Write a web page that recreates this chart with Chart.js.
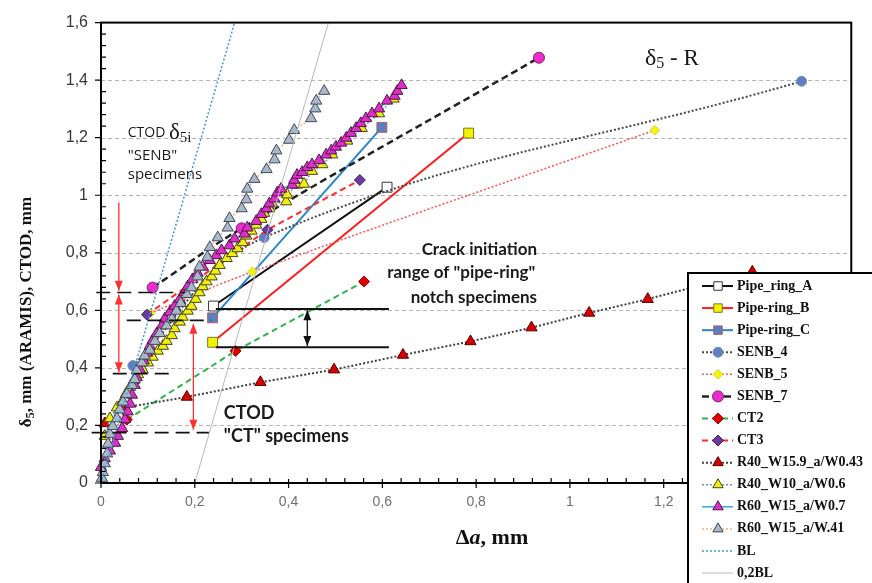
<!DOCTYPE html>
<html>
<head>
<meta charset="utf-8">
<script src="https://cdn.jsdelivr.net/npm/chart.js@4.4.0/dist/chart.umd.min.js"></script>
<style>
html, body { margin: 0; padding: 0; background: #fff; }
#wrap { width: 872px; height: 583px; }
</style>
</head>
<body>
<div id="wrap"><canvas id="chart" width="872" height="583"></canvas></div>
<script>
// axis range / ticks
const axisMin = 0;
const axisMax = 1.6;
const majorStep = 0.2;
const minorStep = 0.04;

// series values, [delta a (mm), delta5 / CTOD (mm)]
const pipeRingA = [[0.240, 0.615], [0.610, 1.028]];
const pipeRingB = [[0.238, 0.489], [0.784, 1.216]];
const pipeRingC = [[0.238, 0.574], [0.599, 1.236]];
const senb4 = [[0.068, 0.408], [0.348, 0.853], [1.494, 1.396]];
const senb5 = [[0.105, 0.590], [0.323, 0.734], [1.181, 1.226]];
const senb7 = [[0.110, 0.679], [0.300, 0.885], [0.934, 1.478]];
const ct2 = [[0.055, 0.220], [0.287, 0.459], [0.561, 0.700]];
const ct3 = [[0.098, 0.585], [0.355, 0.880], [0.552, 1.053]];
const r40w159 = [[0.008, 0.207], [0.050, 0.262], [0.183, 0.299], [0.340, 0.350], [0.497, 0.394],
    [0.644, 0.445], [0.788, 0.492], [0.918, 0.540], [1.041, 0.591], [1.166, 0.639], [1.389, 0.734]];
const r40w10 = [[0.008, 0.163], [0.019, 0.224], [0.034, 0.262], [0.045, 0.282], [0.053, 0.309],
    [0.062, 0.333], [0.070, 0.357], [0.079, 0.377], [0.089, 0.394], [0.100, 0.418], [0.110, 0.438],
    [0.121, 0.459], [0.132, 0.476], [0.140, 0.493], [0.151, 0.513], [0.157, 0.537], [0.168, 0.560],
    [0.174, 0.577], [0.185, 0.598], [0.193, 0.615], [0.202, 0.639], [0.210, 0.662], [0.217, 0.683],
    [0.225, 0.700], [0.236, 0.717], [0.244, 0.737], [0.253, 0.757], [0.268, 0.781], [0.280, 0.798],
    [0.291, 0.815], [0.302, 0.836], [0.310, 0.859], [0.321, 0.876], [0.331, 0.897], [0.342, 0.917],
    [0.348, 0.938], [0.359, 0.954], [0.365, 0.971], [0.395, 0.978], [0.397, 1.002], [0.418, 1.036],
    [0.433, 1.039], [0.450, 1.084], [0.472, 1.107], [0.493, 1.141], [0.525, 1.189], [0.556, 1.233],
    [0.593, 1.284], [0.624, 1.335]];
const r60w07 = [[0.000, 0.055], [0.008, 0.085], [0.019, 0.112], [0.030, 0.139], [0.036, 0.163],
    [0.045, 0.190], [0.051, 0.221], [0.057, 0.248], [0.062, 0.275], [0.066, 0.306], [0.072, 0.340],
    [0.076, 0.367], [0.083, 0.394], [0.091, 0.425], [0.098, 0.452], [0.104, 0.476], [0.110, 0.496],
    [0.119, 0.520], [0.130, 0.547], [0.136, 0.571], [0.147, 0.594], [0.157, 0.615], [0.168, 0.639],
    [0.178, 0.662], [0.185, 0.683], [0.195, 0.707], [0.206, 0.730], [0.217, 0.751], [0.232, 0.774],
    [0.246, 0.791], [0.257, 0.808], [0.274, 0.825], [0.285, 0.849], [0.306, 0.866], [0.312, 0.887],
    [0.331, 0.910], [0.342, 0.934], [0.353, 0.954], [0.359, 0.971], [0.370, 0.988], [0.376, 1.009],
    [0.384, 1.022], [0.408, 1.036], [0.412, 1.053], [0.418, 1.070], [0.429, 1.080], [0.440, 1.097],
    [0.450, 1.107], [0.465, 1.121], [0.480, 1.141], [0.491, 1.155], [0.501, 1.168], [0.512, 1.182],
    [0.523, 1.199], [0.533, 1.216], [0.544, 1.233], [0.554, 1.250], [0.565, 1.267], [0.578, 1.284],
    [0.593, 1.301], [0.610, 1.328], [0.626, 1.345], [0.632, 1.362], [0.641, 1.382]];
const r60w41 = [[0.002, 0.017], [0.004, 0.037], [0.008, 0.068], [0.013, 0.102], [0.015, 0.136],
    [0.019, 0.170], [0.025, 0.197], [0.034, 0.224], [0.040, 0.255], [0.047, 0.282], [0.055, 0.309],
    [0.066, 0.340], [0.072, 0.360], [0.076, 0.391], [0.087, 0.418], [0.093, 0.442], [0.104, 0.462],
    [0.115, 0.493], [0.125, 0.520], [0.140, 0.547], [0.151, 0.571], [0.161, 0.598], [0.170, 0.625],
    [0.183, 0.656], [0.193, 0.679], [0.206, 0.717], [0.210, 0.751], [0.227, 0.785], [0.232, 0.819],
    [0.249, 0.853], [0.270, 0.887], [0.274, 0.920], [0.300, 0.954], [0.310, 0.985], [0.312, 1.022],
    [0.327, 1.056], [0.353, 1.090], [0.370, 1.124], [0.374, 1.155], [0.401, 1.192], [0.412, 1.226],
    [0.448, 1.267], [0.457, 1.301], [0.459, 1.328], [0.476, 1.362]];
const bl = [[0, 0], [0.285, 1.6]];
const bl02 = [[0.2, 0], [0.485, 1.6]];

// annotation guides, data units
const ctodDashes = [[-0.01, 0.18, 0.662], [0.055, 0.235, 0.565], [0.025, 0.15, 0.38], [-0.02, 0.23, 0.175]];
const pipeRange = [[0.245, 0.614, 0.605], [0.245, 0.614, 0.472]];

const fmt = v => String(Math.round(v * 10) / 10).replace('.', ',');

function series(label, pts, o) {
    return Object.assign({
        label,
        data: pts.map(p => ({ x: p[0], y: p[1] })),
        showLine: true,
        clip: false,
        borderWidth: 2,
        borderDash: [],
        pointRadius: 5,
        pointHoverRadius: 5,
        pointBorderWidth: 1,
        tension: 0
    }, o);
}

const datasets = [
    series('Pipe_ring_A', pipeRingA, { borderColor: '#111', pointStyle: 'rect', pointRadius: 7, pointBackgroundColor: '#fff', pointBorderColor: '#333' }),
    series('Pipe-ring_B', pipeRingB, { borderColor: '#ff1a1a', pointStyle: 'rect', pointRadius: 7, pointBackgroundColor: '#f2f200', pointBorderColor: '#7a7a20' }),
    series('Pipe-ring_C', pipeRingC, { borderColor: '#2a86c8', pointStyle: 'rect', pointRadius: 7, pointBackgroundColor: '#5a80c0', pointBorderColor: '#b06060' }),
    series('SENB_4', senb4, { borderColor: '#4a4a4a', borderDash: [2, 2], tension: 0.4, pointStyle: 'circle', pointRadius: 5, pointBackgroundColor: '#5f7fc4', pointBorderColor: '#7f8fb0' }),
    series('SENB_5', senb5, { borderColor: '#ff5050', borderDash: [2, 2], borderWidth: 1.5, tension: 0.4, pointStyle: 'rectRot', pointRadius: 5, pointBackgroundColor: '#f5f500', pointBorderColor: '#d8d080' }),
    series('SENB_7', senb7, { borderColor: '#222', borderDash: [7, 4], borderWidth: 2.5, tension: 0.4, pointStyle: 'circle', pointRadius: 5.5, pointBackgroundColor: '#ee2ccc', pointBorderColor: '#7a2070' }),
    series('CT2', ct2, { borderColor: '#2fb34a', borderDash: [6, 4], pointStyle: 'rectRot', pointRadius: 5.5, pointBackgroundColor: '#e00000', pointBorderColor: '#a00000' }),
    series('CT3', ct3, { borderColor: '#ff2a2a', borderDash: [6, 4], pointStyle: 'rectRot', pointRadius: 5.5, pointBackgroundColor: '#6a3aa0', pointBorderColor: '#40205a' }),
    series('R40_W15.9_a/W0.43', r40w159, { borderColor: '#404040', borderDash: [2, 2], pointStyle: 'triangle', pointRadius: 6.5, pointBackgroundColor: '#d80000', pointBorderColor: '#5a0000' }),
    series('R40_W10_a/W0.6', r40w10, { borderColor: '#7090cc', borderDash: [2, 2], borderWidth: 1.5, pointStyle: 'triangle', pointRadius: 6.5, pointBackgroundColor: '#eeee10', pointBorderColor: '#4a4a10' }),
    series('R60_W15_a/W0.7', r60w07, { borderColor: '#35a6d8', borderWidth: 1.5, pointStyle: 'triangle', pointRadius: 6.5, pointBackgroundColor: '#e02ec8', pointBorderColor: '#4a1a4a' }),
    series('R60_W15_a/W.41', r60w41, { borderColor: '#f4b183', borderDash: [2, 2], borderWidth: 1.5, pointStyle: 'triangle', pointRadius: 6.5, pointBackgroundColor: '#a8b8ca', pointBorderColor: '#404a58' }),
    series('BL', bl, { borderColor: '#3a9ad8', borderDash: [2, 2], borderWidth: 1.5, pointRadius: 0, pointHoverRadius: 0 }),
    series('0,2BL', bl02, { borderColor: '#b8b8b8', borderWidth: 1, pointRadius: 0, pointHoverRadius: 0 })
];
// later series on top, like the original
datasets.forEach((d, i) => { d.order = datasets.length - i; });

// text with sub/superscript pieces: [text, font, dy]
function richWidth(ctx, parts) {
    let w = 0;
    parts.forEach(p => { ctx.font = p[1]; w += ctx.measureText(p[0]).width; });
    return w;
}
function drawRich(ctx, parts, x, y, align) {
    const w = richWidth(ctx, parts);
    let cx = align === 'center' ? x - w / 2 : align === 'right' ? x - w : x;
    ctx.textAlign = 'left';
    ctx.textBaseline = 'middle';
    parts.forEach(p => {
        ctx.font = p[1];
        ctx.fillText(p[0], cx, y + (p[2] || 0));
        cx += ctx.measureText(p[0]).width;
    });
}

function vArrow(ctx, x, y1, y2, both, color) {
    ctx.strokeStyle = color; ctx.fillStyle = color; ctx.lineWidth = 1.3;
    ctx.beginPath(); ctx.moveTo(x, y1); ctx.lineTo(x, y2); ctx.stroke();
    const head = (y, d) => {
        ctx.beginPath();
        ctx.moveTo(x, y);
        ctx.lineTo(x - 4, y - d * 10);
        ctx.lineTo(x + 4, y - d * 10);
        ctx.closePath(); ctx.fill();
    };
    head(y2, y2 > y1 ? 1 : -1);
    if (both) head(y1, y1 > y2 ? 1 : -1);
}

const overlay = {
    id: 'overlay',
    beforeDatasetsDraw(chart) {
        const { ctx, chartArea: a, scales: { y } } = chart;
        ctx.save();
        ctx.strokeStyle = '#b4b4b4'; ctx.lineWidth = 1; ctx.setLineDash([4, 3]);
        for (let v = majorStep; v < axisMax - 0.01; v += majorStep) {
            const py = Math.round(y.getPixelForValue(v)) + 0.5;
            ctx.beginPath(); ctx.moveTo(a.left, py); ctx.lineTo(a.right, py); ctx.stroke();
        }
        ctx.restore();
    },
    afterDatasetsDraw(chart) {
        const { ctx, chartArea: a, scales: { x, y } } = chart;
        const px = v => x.getPixelForValue(v);
        const py = v => y.getPixelForValue(v);
        ctx.save();

        // CTOD dashed levels
        ctx.strokeStyle = '#111'; ctx.lineWidth = 1.6; ctx.setLineDash([14, 7]);
        ctodDashes.forEach(d => {
            ctx.beginPath(); ctx.moveTo(px(d[0]), py(d[2])); ctx.lineTo(px(d[1]), py(d[2])); ctx.stroke();
        });
        ctx.setLineDash([]);

        // pipe-ring initiation range
        ctx.lineWidth = 2;
        pipeRange.forEach(d => {
            ctx.beginPath(); ctx.moveTo(px(d[0]), py(d[2])); ctx.lineTo(px(d[1]), py(d[2])); ctx.stroke();
        });
        vArrow(ctx, px(0.44), py(0.600), py(0.476), true, '#111');

        // red range arrows
        vArrow(ctx, px(0.038), py(0.975), py(0.668), false, '#ff3030');
        vArrow(ctx, px(0.038), py(0.655), py(0.385), true, '#ff3030');
        vArrow(ctx, px(0.197), py(0.553), py(0.185), true, '#ff3030');

        // texts
        ctx.fillStyle = '#1a1a1a';
        drawRich(ctx, [['δ', '24px "Liberation Serif"'], ['5', '16px "Liberation Serif"', 5], [' - R', '23px "Liberation Serif"']],
            px(1.16), py(1.474), 'left');
        drawRich(ctx, [['CTOD ', '14px "Open Sans"'], ['δ', '23px "Liberation Serif"'], ['5i', '15px "Liberation Serif"', 5]],
            px(0.057), py(1.216), 'left');
        drawRich(ctx, [['"SENB"', '15px "Open Sans"']], px(0.057), py(1.138), 'left');
        drawRich(ctx, [['specimens', '15px "Open Sans"']], px(0.057), py(1.073), 'left');

        const bf = 'bold 17px Lato';
        drawRich(ctx, [['Crack initiation', bf]], px(0.93), py(0.812), 'right');
        drawRich(ctx, [['range of "pipe-ring"', bf]], px(0.926), py(0.730), 'right');
        drawRich(ctx, [['notch specimens', bf]], px(0.93), py(0.645), 'right');

        const cf = 'bold 18px Lato';
        drawRich(ctx, [['CTOD', cf]], px(0.262), py(0.241), 'left');
        drawRich(ctx, [['"CT" specimens', cf]], px(0.262), py(0.163), 'left');

        // frame
        ctx.strokeStyle = '#000'; ctx.lineWidth = 2;
        ctx.strokeRect(a.left, a.top, a.right - a.left, a.bottom - a.top);

        // ticks
        ctx.lineWidth = 1.2;
        for (let i = 0; i <= Math.round((axisMax - axisMin) / minorStep); i++) {
            const v = axisMin + i * minorStep;
            const major = i % 5 === 0;
            const xv = px(v), yv = py(v);
            ctx.beginPath();
            if (major) { ctx.moveTo(xv, a.bottom - 4); ctx.lineTo(xv, a.bottom + 5); }
            else { ctx.moveTo(xv, a.bottom - 5); ctx.lineTo(xv, a.bottom); }
            if (major) { ctx.moveTo(a.left - 6, yv); ctx.lineTo(a.left, yv); }
            else { ctx.moveTo(a.left, yv); ctx.lineTo(a.left + 5, yv); }
            ctx.stroke();
        }

        // axis titles
        ctx.fillStyle = '#111';
        drawRich(ctx, [['Δ', 'bold 22px "Liberation Serif"'], ['a', 'italic bold 22px "Liberation Serif"'], [', mm', 'bold 22px "Liberation Serif"']],
            492, 538, 'center');
        ctx.translate(27, 312);
        ctx.rotate(-Math.PI / 2);
        drawRich(ctx, [['δ', 'bold 17px "Liberation Serif"'], ['5', 'bold 12px "Liberation Serif"', 4], [', mm (ARAMIS), CTOD, mm', 'bold 17px "Liberation Serif"']],
            0, 0, 'center');
        ctx.restore();
    },
    afterDraw(chart) {
        const ctx = chart.ctx;
        ctx.save();
        ctx.fillStyle = '#fff';
        ctx.fillRect(688, 273, 200, 320);
        ctx.strokeStyle = '#000'; ctx.lineWidth = 2;
        ctx.strokeRect(688, 273, 200, 320);
        chart.data.datasets.forEach((ds, i) => {
            const ly = 286 + i * 22.08;
            ctx.setLineDash(ds.borderDash);
            ctx.strokeStyle = ds.borderColor;
            ctx.lineWidth = ds.borderWidth;
            ctx.beginPath(); ctx.moveTo(702, ly); ctx.lineTo(733, ly); ctx.stroke();
            ctx.setLineDash([]);
            if (ds.pointRadius > 0) {
                ctx.fillStyle = ds.pointBackgroundColor;
                ctx.strokeStyle = ds.pointBorderColor;
                ctx.lineWidth = ds.pointBorderWidth;
                Chart.helpers.drawPoint(ctx, { pointStyle: ds.pointStyle, radius: Math.min(ds.pointRadius, 6), rotation: 0, borderWidth: ds.pointBorderWidth }, 718, ly);
            }
            ctx.fillStyle = '#111';
            ctx.font = 'bold 14px "Liberation Serif"';
            ctx.textAlign = 'left'; ctx.textBaseline = 'middle';
            ctx.fillText(ds.label, 737, ly);
        });
        ctx.restore();
    }
};

new Chart(document.getElementById('chart'), {
    type: 'scatter',
    data: { datasets },
    options: {
        responsive: false,
        animation: false,
        events: [],
        layout: { padding: { left: 0, right: 20, top: 12, bottom: 0 } },
        plugins: { legend: { display: false }, tooltip: { enabled: false } },
        scales: {
            x: {
                type: 'linear', min: axisMin, max: axisMax,
                afterFit: s => { s.height = 100; },
                grid: { display: false, drawTicks: false },
                border: { display: false },
                ticks: { stepSize: majorStep, autoSkip: false, maxRotation: 0, padding: 11, color: '#707070',
                    font: { family: 'Liberation Sans', size: 14 }, callback: fmt }
            },
            y: {
                type: 'linear', min: axisMin, max: axisMax,
                afterFit: s => { s.width = 101; },
                grid: { display: false, drawTicks: false },
                border: { display: false },
                ticks: { stepSize: majorStep, autoSkip: false, padding: 13, color: '#383838',
                    font: { family: 'Liberation Sans', size: 16 }, callback: fmt }
            }
        }
    },
    plugins: [overlay]
});
</script>
</body>
</html>
